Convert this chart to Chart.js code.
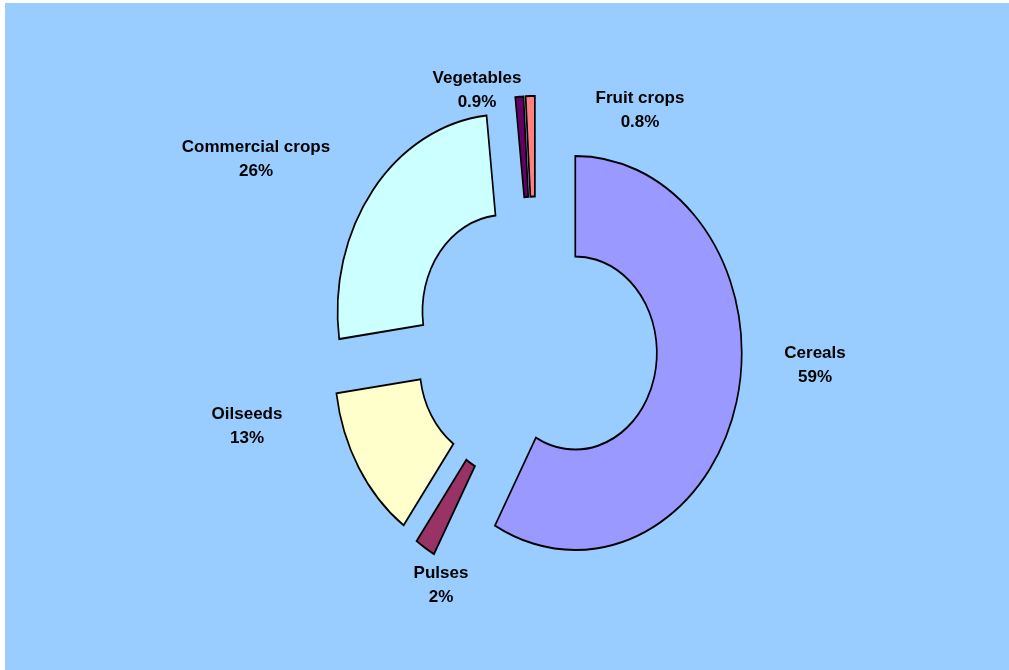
<!DOCTYPE html>
<html>
<head>
<meta charset="utf-8">
<script src="https://cdn.jsdelivr.net/npm/chart.js@4.4.1/dist/chart.umd.min.js"></script>
<style>
  html, body { margin: 0; padding: 0; background: #ffffff; }
  #wrap { width: 1009px; height: 670px; position: relative; }
</style>
</head>
<body>
<div id="wrap"><canvas id="c" width="1009" height="670"></canvas></div>
<script>
// Share of cropped area by crop group (%)
const categories = ['Cereals', 'Pulses', 'Oilseeds', 'Commercial crops', 'Fruit crops', 'Vegetables'];
const shares = [59, 2, 13, 26, 0.8, 0.9];
const shareLabels = ['59%', '2%', '13%', '26%', '0.8%', '0.9%'];

const sliceColors = ['#9999FF', '#993366', '#FFFFCC', '#CCFFFF', '#660066', '#FF8080'];

// Where each category caption sits (centre of the two-line block)
const labelAnchors = [
  [815, 365], [441, 585], [247, 426], [256, 159], [640, 110], [477, 90]
];

const EXPLODE = 48;      // radial pull-out of every slice, px
const X_SQUASH = 0.845;  // horizontal flattening of the ring

const backdrop = {
  id: 'backdrop',
  beforeDraw(chart) {
    const ctx = chart.ctx;
    ctx.save();
    ctx.fillStyle = '#ffffff';
    ctx.fillRect(0, 0, chart.width, chart.height);
    ctx.fillStyle = '#99CCFF';
    ctx.fillRect(5, 3, chart.width - 5, chart.height - 3);
    ctx.restore();
  }
};

// Flatten the ring horizontally and pull each slice straight out along its mid-angle
const explodeRing = {
  id: 'explodeRing',
  beforeDatasetsDraw(chart) {
    const a = chart.chartArea;
    const cx = (a.left + a.right) / 2;
    const ctx = chart.ctx;
    ctx.save();
    ctx.translate(cx, 0);
    ctx.scale(X_SQUASH, 1);
    ctx.translate(-cx, 0);
    chart.getDatasetMeta(0).data.forEach(arc => {
      if (arc._pulled) return;
      const baseDraw = arc.draw;
      arc.draw = function (c) {
        const mid = (this.startAngle + this.endAngle) / 2;
        c.save();
        c.translate(Math.cos(mid) * EXPLODE, Math.sin(mid) * EXPLODE);
        baseDraw.call(this, c);
        c.restore();
      };
      arc._pulled = true;
    });
  },
  afterDatasetsDraw(chart) {
    chart.ctx.restore();
  }
};

const captions = {
  id: 'captions',
  afterDraw(chart) {
    const ctx = chart.ctx;
    ctx.save();
    ctx.fillStyle = '#000000';
    ctx.font = 'bold 17px "Liberation Sans", Arial, sans-serif';
    ctx.textAlign = 'center';
    ctx.textBaseline = 'middle';
    categories.forEach((name, i) => {
      const [x, y] = labelAnchors[i];
      ctx.fillText(name, x, y - 12);
      ctx.fillText(shareLabels[i], x, y + 12);
    });
    ctx.restore();
  }
};

new Chart(document.getElementById('c'), {
  type: 'doughnut',
  data: {
    labels: categories,
    datasets: [{
      data: shares,
      backgroundColor: sliceColors,
      borderColor: '#000000',
      borderWidth: 2,
      borderJoinStyle: 'miter',
      radius: 197,
      cutout: '49%',
      offset: 0
    }]
  },
  options: {
    responsive: false,
    animation: false,
    events: [],
    devicePixelRatio: 1,
    layout: { padding: { left: 63, right: 0, top: 12, bottom: 0 } },
    plugins: {
      legend: { display: false },
      tooltip: { enabled: false }
    }
  },
  plugins: [backdrop, explodeRing, captions]
});
</script>
</body>
</html>
